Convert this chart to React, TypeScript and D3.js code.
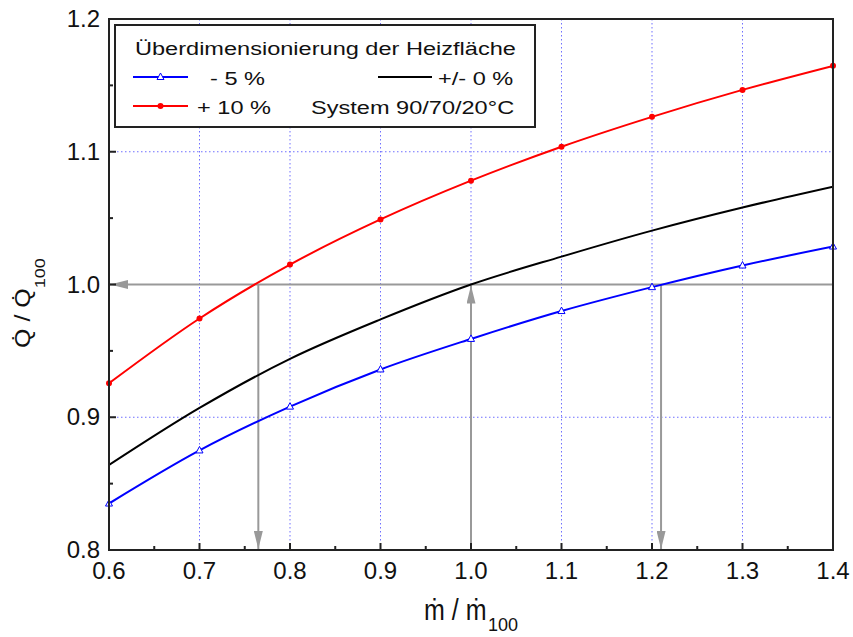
import React from "react";
import * as d3 from "d3";

const xs = [0.6, 0.7, 0.8, 0.9, 1.0, 1.1, 1.2, 1.3, 1.4];
const minus5 = [0.835, 0.875, 0.908, 0.936, 0.959, 0.980, 0.998, 1.0143, 1.0286];
const zero = [0.864, 0.907, 0.944, 0.9737, 1.0, 1.021, 1.0406, 1.058, 1.0737];
const plus10 = [0.9256, 0.9744, 1.015, 1.049, 1.0782, 1.1038, 1.1263, 1.1466, 1.1647];
const xTicks = [0.6, 0.7, 0.8, 0.9, 1.0, 1.1, 1.2, 1.3, 1.4];
const yTicks = [0.8, 0.9, 1.0, 1.1, 1.2];
const arrowDownX = [0.765, 1.21];
const arrowUpX = [1.0];
const refY = 1.0;
const legendTitle = "Überdimensionierung der Heizfläche";
const seriesNames = ["- 5 %", "+/- 0 %", "+ 10 %"];
const systemNote = "System 90/70/20°C";

const W = 853, H = 637;
const L = 109, R = 833, T = 19, B = 550;
const FONT = "'Liberation Sans', Arial, sans-serif";

function SText({ x, y, children }: { x: number; y: number; children: React.ReactNode }) {
  return (
    <g transform={`translate(${x},${y}) scale(1.24,1)`}>
      <text x={0} y={0} fontSize={19} fill="#111">{children}</text>
    </g>
  );
}

export default function App() {
  const x = d3.scaleLinear().domain([0.6, 1.4]).range([L, R]);
  const y = d3.scaleLinear().domain([0.8, 1.2]).range([B, T]);
  const line = (vals: number[]) =>
    d3.line<number>().x((_, i) => x(xs[i])).y((v) => y(v)).curve(d3.curveMonotoneX)(vals) || "";
  const minorX = d3.range(0.65, 1.4, 0.1);
  const minorY = d3.range(0.85, 1.2, 0.1);
  const gray = "#999999";

  return (
    <svg width={W} height={H} style={{ position: "absolute", left: 0, top: 0 }} fontFamily={FONT}>
      <defs>
        <marker id="ah2" viewBox="0 0 10 10" refX="10" refY="5" markerWidth="18" markerHeight="9" orient="auto" markerUnits="userSpaceOnUse" preserveAspectRatio="none">
          <path d="M0,0 L10,5 L0,10 z" fill={gray} />
        </marker>
        <clipPath id="clip"><rect x={L} y={T} width={R - L} height={B - T} /></clipPath>
      </defs>
      <rect width={W} height={H} fill="#fff" />
      {/* grid */}
      {xTicks.slice(1, -1).map((t) => (
        <line key={"gx" + t} x1={x(t)} x2={x(t)} y1={T} y2={B} stroke="#6f6fff" strokeWidth={1} strokeDasharray="1.5,2.5" />
      ))}
      {yTicks.slice(1, -1).map((t) => (
        <line key={"gy" + t} x1={L} x2={R} y1={y(t)} y2={y(t)} stroke="#6f6fff" strokeWidth={1} strokeDasharray="1.5,2.5" />
      ))}
      {/* gray reference arrows */}
      <line x1={R} x2={L + 1} y1={y(refY)} y2={y(refY)} stroke={gray} strokeWidth={2} markerEnd="url(#ah2)" />
      {arrowDownX.map((v) => (
        <line key={"ad" + v} x1={x(v)} x2={x(v)} y1={y(refY)} y2={B - 1} stroke={gray} strokeWidth={2} markerEnd="url(#ah2)" />
      ))}
      {arrowUpX.map((v) => (
        <line key={"au" + v} x1={x(v)} x2={x(v)} y1={B} y2={y(refY) + 1} stroke={gray} strokeWidth={2} markerEnd="url(#ah2)" />
      ))}
      {/* series */}
      <g clipPath="url(#clip)">
        <path d={line(zero)} fill="none" stroke="#000" strokeWidth={2} />
        <path d={line(minus5)} fill="none" stroke="#0000ff" strokeWidth={2} />
        <path d={line(plus10)} fill="none" stroke="#ff0000" strokeWidth={2} />
      </g>
      {minus5.map((v, i) => {
        const cx = x(xs[i]), cy = y(v);
        return <path key={"m" + i} d={`M${cx},${cy - 4} L${cx + 3.5},${cy + 2.5} L${cx - 3.5},${cy + 2.5} Z`} fill="#fff" stroke="#0000ff" strokeWidth={1} />;
      })}
      {plus10.map((v, i) => (
        <circle key={"p" + i} cx={x(xs[i])} cy={y(v)} r={3} fill="#ff0000" />
      ))}
      {/* frame */}
      <rect x={L} y={T} width={R - L} height={B - T} fill="none" stroke="#222" strokeWidth={2} />
      {/* ticks */}
      {xTicks.map((t) => (
        <line key={"tx" + t} x1={x(t)} x2={x(t)} y1={B} y2={B - 7} stroke="#222" strokeWidth={2} />
      ))}
      {minorX.map((t) => (
        <line key={"mx" + t} x1={x(t)} x2={x(t)} y1={B} y2={B - 4} stroke="#222" strokeWidth={2} />
      ))}
      {yTicks.map((t) => (
        <line key={"ty" + t} x1={L} x2={L + 7} y1={y(t)} y2={y(t)} stroke="#222" strokeWidth={2} />
      ))}
      {minorY.map((t) => (
        <line key={"my" + t} x1={L} x2={L + 4} y1={y(t)} y2={y(t)} stroke="#222" strokeWidth={2} />
      ))}
      {/* tick labels */}
      {xTicks.map((t) => (
        <text key={"lx" + t} x={x(t)} y={579} textAnchor="middle" fontSize={24} fill="#111">{t.toFixed(1)}</text>
      ))}
      {yTicks.map((t) => (
        <text key={"ly" + t} x={L - 9} y={y(t) + 8} textAnchor="end" fontSize={24} fill="#111">{t.toFixed(1)}</text>
      ))}
      {/* axis titles */}
      <g transform="translate(424,620) scale(1,1.15)">
        <text x={0} y={0} fontSize={25} fill="#111">{"ṁ / ṁ"}</text>
      </g>
      <text x={488} y={631} fontSize={18} fill="#111">100</text>
      <g transform="translate(30,348) rotate(-90) scale(1,0.85)">
        <text x={0} y={0} fontSize={25} fill="#111">
          {"Q̇ / Q̇"}<tspan fontSize={18} dy={18}>100</tspan>
        </text>
      </g>
      {/* legend */}
      <rect x={115} y={25} width={420} height={102} fill="#fff" stroke="#222" strokeWidth={2} />
      <SText x={135} y={55}>{legendTitle}</SText>
      <line x1={133} x2={188} y1={77} y2={77} stroke="#0000ff" strokeWidth={2} />
      <path d={`M160.5,73 L164,79.5 L157,79.5 Z`} fill="#fff" stroke="#0000ff" strokeWidth={1} />
      <SText x={210} y={85}>{seriesNames[0]}</SText>
      <line x1={378} x2={432} y1={77} y2={77} stroke="#000" strokeWidth={2} />
      <SText x={438} y={85}>{seriesNames[1]}</SText>
      <line x1={133} x2={188} y1={106} y2={106} stroke="#ff0000" strokeWidth={2} />
      <circle cx={160.5} cy={106} r={3} fill="#ff0000" />
      <SText x={197} y={114}>{seriesNames[2]}</SText>
      <SText x={311} y={114}>{systemNote}</SText>
    </svg>
  );
}
